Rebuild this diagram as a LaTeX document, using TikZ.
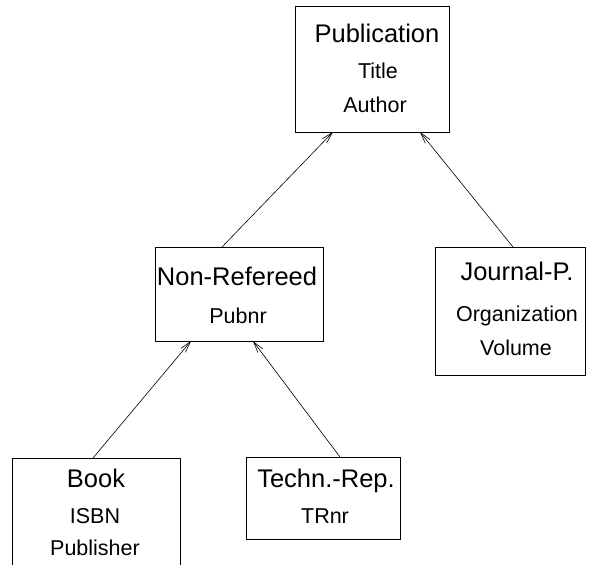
\documentclass[tikz,border=0pt]{standalone}
\usepackage{fontspec}
\setmainfont{Liberation Sans}
\usetikzlibrary{arrows.meta}

\begin{document}
\begin{tikzpicture}[x=1pt,y=-1pt,
	box/.style={draw, line width=0.8pt, inner sep=0pt, outer sep=0pt, anchor=north west},
	head/.style={font=\fontsize{25.5}{29}\selectfont, anchor=base, inner sep=0pt},
	attr/.style={font=\fontsize{21.5}{25}\selectfont, anchor=base, inner sep=0pt},
	arr/.style={-{Straight Barb[length=11pt,width=6pt]}, line width=0.6pt}]
				\clip (0,0) rectangle (595,565);
				\node[box, minimum width=154pt, minimum height=126pt] (pub) at (295,6) {};
				\node[box, minimum width=168pt, minimum height=94pt] (nonref) at (155,247) {};
				\node[box, minimum width=150pt, minimum height=128pt] (journal) at (435,247) {};
				\node[box, minimum width=168pt, minimum height=120pt] (book) at (12,458) {};
				\node[box, minimum width=154pt, minimum height=82pt] (techn) at (246,457) {};
				\node[head] (pubname) at (377,42) {Publication};
				\node[attr] (pubtitle) at (378,78) {Title};
				\node[attr] (pubauthor) at (375,112) {Author};
				\node[head] (nonrefname) at (237,285) {Non-Refereed};
				\node[attr] (nonrefnr) at (238,323) {Pubnr};
				\node[head] (journalname) at (517,280) {Journal-P.};
				\node[attr] (journalorg) at (517,321) {Organization};
				\node[attr] (journalvol) at (516,355) {Volume};
				\node[head] (bookname) at (96,487) {Book};
				\node[attr] (bookisbn) at (95,523) {ISBN};
				\node[attr] (bookpub) at (95,555) {Publisher};
				\node[head] (technname) at (326,487) {Techn.-Rep.};
				\node[attr] (technnr) at (325,523) {TRnr};
				\draw[arr] ([xshift=-17pt]nonref.north) -- ([xshift=-39pt]pub.south);
				\draw[arr] ([xshift=3pt]journal.north) -- ([xshift=48pt]pub.south);
				\draw[arr] ([xshift=-3pt]book.north) -- ([xshift=-48pt]nonref.south);
				\draw[arr] ([xshift=17pt]techn.north) -- ([xshift=14pt]nonref.south);
\end{tikzpicture}
\end{document}
